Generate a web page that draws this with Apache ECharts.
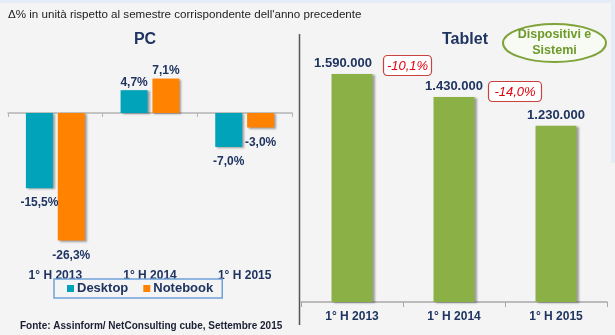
<!DOCTYPE html>
<html>
<head>
<meta charset="utf-8">
<script src="https://cdn.jsdelivr.net/npm/echarts@6/dist/echarts.min.js"></script>
<style>
html,body{margin:0;padding:0;background:#f4f4f4;}
#chart{width:615px;height:335px;}
</style>
</head>
<body>
<div id="chart"></div>
<script>
// ---- Data ----
var categories = ['1° H 2013', '1° H 2014', '1° H 2015'];
var desktop = [-15.5, 4.7, -7.0];
var notebook = [-26.3, 7.1, -3.0];
var tablet = [1590000, 1430000, 1230000];
var tabletChange = ['-10,1%', '-14,0%'];
var subtitle = "\u0394% in unità rispetto al semestre corrispondente dell'anno precedente";
var source = 'Fonte: Assinform/ NetConsulting cube, Settembre 2015';
var badge = 'Dispositivi e\nSistemi';

var NAVY = '#1f3461';
function pct(v) { return v.toFixed(1).replace('.', ',') + '%'; }
function thousands(v) { return String(v).replace(/\B(?=(\d{3})+(?!\d))/g, '.'); }
function withPos(arr) {
  return arr.map(function (v) {
    return { value: v, label: { position: v < 0 ? 'bottom' : 'top', distance: v < 0 ? 9 : 2 } };
  });
}
var shadow = { shadowColor: 'rgba(0,0,0,0.35)', shadowBlur: 2, shadowOffsetX: 2, shadowOffsetY: 1 };

var chart = echarts.init(document.getElementById('chart'));
chart.setOption({
  backgroundColor: '#f4f4f4',
  animation: false,
  title: [
    { text: 'PC', left: 140, top: 27, textAlign: 'center', textStyle: { fontFamily: 'Liberation Sans', fontWeight: 'bold', fontSize: 16, color: NAVY } },
    { text: 'Tablet', left: 460, top: 27, textAlign: 'center', textStyle: { fontFamily: 'Liberation Sans', fontWeight: 'bold', fontSize: 16, color: NAVY } }
  ],
  legend: {
    data: ['Desktop', 'Notebook'],
    left: 54, top: 279,
    padding: [3, 9, 3, 13],
    itemGap: 15,
    itemWidth: 7, itemHeight: 7,
    icon: 'rect',
    borderColor: '#6fa0d8', borderWidth: 1.5,
    textStyle: { fontFamily: 'Liberation Sans', fontWeight: 'bold', fontSize: 13, color: NAVY, padding: [0, 0, 0, -2] }
  },
  grid: [
    { left: 8, width: 284, top: 64.5, height: 194, containLabel: false, outerBoundsMode: 'none' },
    { left: 301, width: 306, top: 44, height: 258, containLabel: false, outerBoundsMode: 'none' }
  ],
  xAxis: [
    { type: 'category', gridIndex: 0, data: categories,
      axisLine: { onZero: true, lineStyle: { color: '#b4b4b4', width: 1.5 } },
      axisTick: { show: true, length: 4, lineStyle: { color: '#b4b4b4' } },
      axisLabel: { margin: 11, fontFamily: 'Liberation Sans', fontWeight: 'bold', fontSize: 12, color: NAVY } },
    { type: 'category', gridIndex: 1, data: categories,
      axisLine: { lineStyle: { color: '#a8a8a8', width: 1.5 } },
      axisTick: { show: true, length: 5, lineStyle: { color: '#a8a8a8' } },
      axisLabel: { margin: 9, fontFamily: 'Liberation Sans', fontWeight: 'bold', fontSize: 12, color: NAVY } }
  ],
  yAxis: [
    { type: 'value', gridIndex: 0, min: -30, max: 10, show: false, splitLine: { show: false } },
    { type: 'value', gridIndex: 1, min: 0, max: 1800000, show: false, splitLine: { show: false } }
  ],
  series: [
    { name: 'Desktop', type: 'bar', xAxisIndex: 0, yAxisIndex: 0, data: withPos(desktop),
      barWidth: 27, barGap: '18%',
      itemStyle: Object.assign({ color: '#00a3b9' }, shadow),
      label: { show: true, formatter: function (p) { return pct(p.value); }, fontFamily: 'Liberation Sans', fontWeight: 'bold', fontSize: 12, color: NAVY } },
    { name: 'Notebook', type: 'bar', xAxisIndex: 0, yAxisIndex: 0, data: withPos(notebook),
      barWidth: 27, barGap: '18%',
      itemStyle: Object.assign({ color: '#ff8200' }, shadow),
      label: { show: true, formatter: function (p) { return pct(p.value); }, fontFamily: 'Liberation Sans', fontWeight: 'bold', fontSize: 12, color: NAVY } },
    { name: 'Tablet', type: 'bar', xAxisIndex: 1, yAxisIndex: 1,
      data: tablet.map(function (v, i) { return i === 0 ? { value: v, label: { offset: [-9, 0] } } : v; }),
      barWidth: 41,
      itemStyle: Object.assign({ color: '#8bb046' }, shadow),
      label: { show: true, position: 'top', distance: 4, formatter: function (p) { return thousands(p.value); }, fontFamily: 'Liberation Sans', fontWeight: 'bold', fontSize: 13, color: NAVY } }
  ],
  graphic: [
    { type: 'rect', left: 0, top: 0, shape: { width: 615, height: 3 }, style: { fill: '#e4ecf6' }, silent: true },
    { type: 'rect', left: 611, top: 0, shape: { width: 4, height: 163 }, style: { fill: '#e4ecf6' }, silent: true },
    { type: 'text', left: 8, top: 9, style: { text: subtitle, font: '11.6px "Liberation Sans"', fill: '#222' } },
    { type: 'line', shape: { x1: 299.5, y1: 34, x2: 299.5, y2: 325 }, style: { stroke: '#555', lineWidth: 1.5 } },
    { type: 'text', left: 20, top: 321, style: { text: source, font: 'bold 10px "Liberation Sans"', fill: '#1a1f33' } },
    { type: 'ellipse', shape: { cx: 554.5, cy: 43, rx: 51.5, ry: 19 }, style: { fill: '#f8fbf3', stroke: '#7fa33a', lineWidth: 2 } },
    { type: 'text', x: 554.5, y: 43, style: { text: badge, font: 'bold 12.5px "Liberation Sans"', fill: '#6e9a2a', align: 'center', verticalAlign: 'middle', lineHeight: 16 } },
    { type: 'rect', shape: { x: 383.5, y: 55.5, width: 48, height: 20, r: 4 }, style: { fill: '#ffffff', stroke: '#c8433f', lineWidth: 1.2 } },
    { type: 'text', x: 407.5, y: 66, style: { text: tabletChange[0], font: 'italic 13px "Liberation Sans"', fill: '#e3000f', align: 'center', verticalAlign: 'middle' } },
    { type: 'rect', shape: { x: 488.5, y: 81.5, width: 53, height: 20, r: 4 }, style: { fill: '#ffffff', stroke: '#c8433f', lineWidth: 1.2 } },
    { type: 'text', x: 515, y: 92, style: { text: tabletChange[1], font: 'italic 13px "Liberation Sans"', fill: '#e3000f', align: 'center', verticalAlign: 'middle' } }
  ]
});
</script>
</body>
</html>
